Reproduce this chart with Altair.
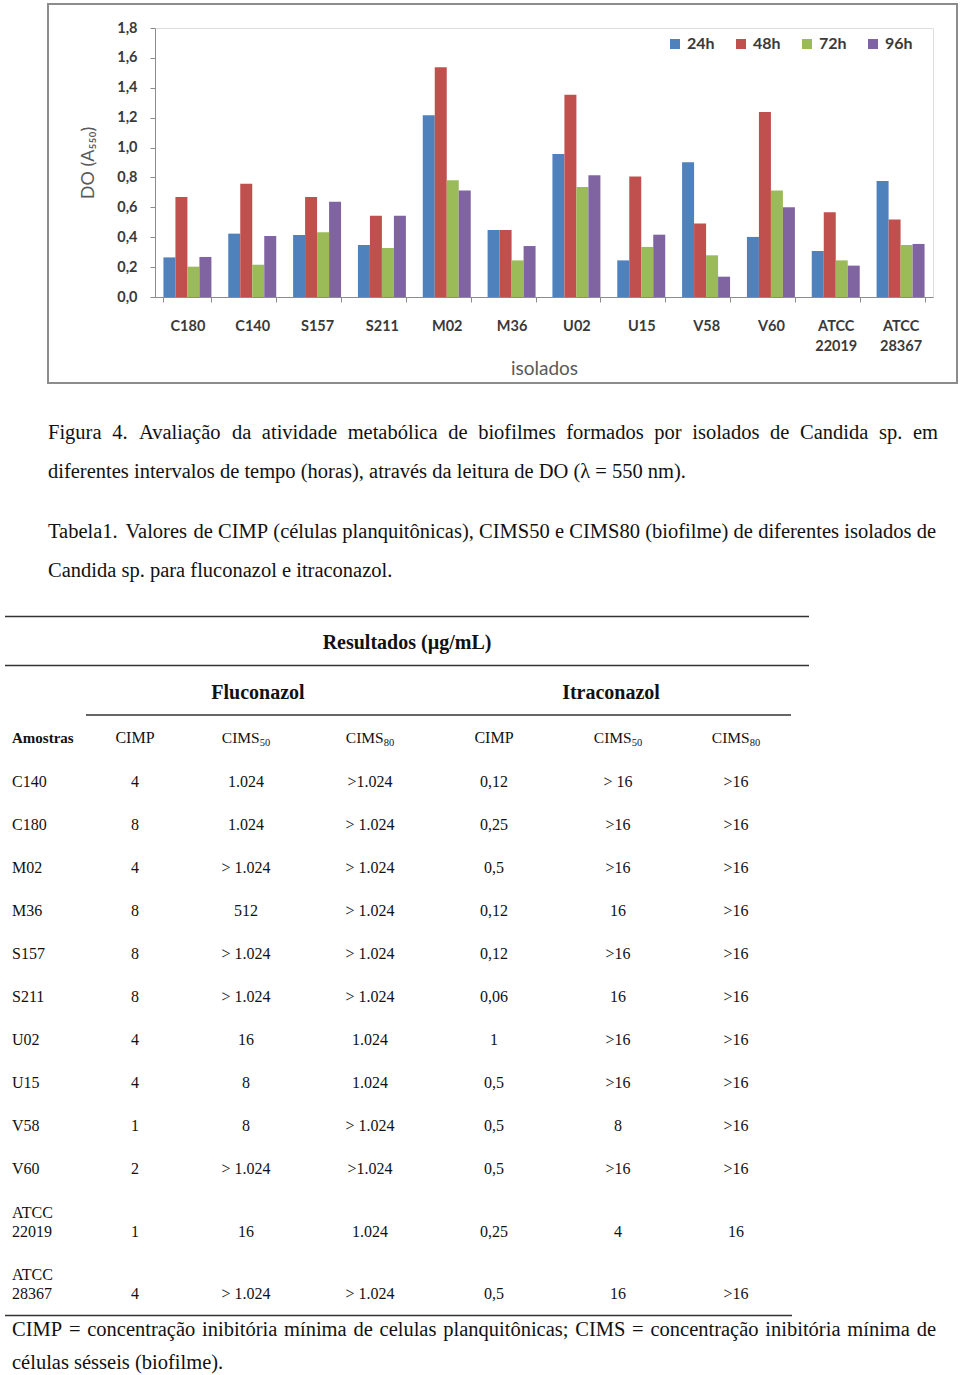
import altair as alt
import pandas as pd

# ------------------------------------------------------------------ data
isolates = ["C180", "C140", "S157", "S211", "M02", "M36", "U02", "U15",
            "V58", "V60", "ATCC 22019", "ATCC 28367"]
times = ["24h", "48h", "72h", "96h"]
do_24h = [0.265, 0.424, 0.415, 0.348, 1.216, 0.448, 0.957, 0.245, 0.901, 0.402, 0.308, 0.776]
do_48h = [0.669, 0.758, 0.669, 0.544, 1.537, 0.448, 1.354, 0.807, 0.491, 1.238, 0.567, 0.518]
do_72h = [0.203, 0.216, 0.433, 0.328, 0.781, 0.245, 0.736, 0.335, 0.279, 0.712, 0.245, 0.348]
do_96h = [0.268, 0.408, 0.638, 0.544, 0.712, 0.341, 0.814, 0.417, 0.136, 0.600, 0.210, 0.355]
y_ticks = [0.0, 0.2, 0.4, 0.6, 0.8, 1.0, 1.2, 1.4, 1.6, 1.8]

caption_lines = [
    "Figura 4. Avaliação da atividade metabólica de biofilmes formados por isolados de Candida sp. em",
    "diferentes intervalos de tempo (horas), através da leitura de DO (λ = 550 nm).",
]
table_caption_lines = [
    "Tabela1. Valores de CIMP (células planquitônicas), CIMS50 e CIMS80 (biofilme) de diferentes isolados de",
    "Candida sp. para fluconazol e itraconazol.",
]
footnote_lines = [
    "CIMP = concentração inibitória mínima de celulas planquitônicas; CIMS = concentração inibitória mínima de",
    "células sésseis (biofilme).",
]
table_title = "Resultados (µg/mL)"
drug_names = ["Fluconazol", "Itraconazol"]
first_header = "Amostras"
col_headers = [("CIMP", ""), ("CIMS", "50"), ("CIMS", "80"), ("CIMP", ""), ("CIMS", "50"), ("CIMS", "80")]

table_samples = ["C140", "C180", "M02", "M36", "S157", "S211", "U02", "U15", "V58", "V60",
                 "ATCC 22019", "ATCC 28367"]
flu_cimp = ["4", "8", "4", "8", "8", "8", "4", "4", "1", "2", "1", "4"]
flu_cims50 = ["1.024", "1.024", "> 1.024", "512", "> 1.024", "> 1.024", "16", "8", "8", "> 1.024", "16", "> 1.024"]
flu_cims80 = [">1.024", "> 1.024", "> 1.024", "> 1.024", "> 1.024", "> 1.024", "1.024", "1.024", "> 1.024",
              ">1.024", "1.024", "> 1.024"]
itr_cimp = ["0,12", "0,25", "0,5", "0,12", "0,12", "0,06", "1", "0,5", "0,5", "0,5", "0,25", "0,5"]
itr_cims50 = ["> 16", ">16", ">16", "16", ">16", "16", ">16", ">16", "8", ">16", "4", "16"]
itr_cims80 = [">16", ">16", ">16", ">16", ">16", ">16", ">16", ">16", ">16", ">16", "16", ">16"]

# ------------------------------------------------------------------ layout / style constants
PX0, PY0, PW, PH = 155, 28, 778, 269          # plot area on the page
CANVAS_W, CANVAS_H = 960, 1375
SERIF = "Liberation Serif"
SANS = "Lato"
INK = "#111111"
COLORS = ["#4F81BD", "#C0504D", "#9BBB59", "#8064A2"]

XP = alt.Scale(domain=[PX0, PX0 + PW], range=[0, PW], nice=False, zero=False)
YP = alt.Scale(domain=[PY0, PY0 + PH], range=[0, PH], nice=False, zero=False)

# Times/Liberation Serif advance widths (1/1000 em), used for justification
TW = {' ': 250, '(': 333, ')': 333, ',': 250, '.': 250, '/': 278, ':': 278, ';': 278, '=': 564, '>': 564,
      '-': 333, 'λ': 549, 'µ': 500,
      'A': 722, 'B': 667, 'C': 667, 'D': 722, 'E': 611, 'F': 556, 'G': 722, 'H': 722, 'I': 333, 'J': 389,
      'K': 722, 'L': 611, 'M': 889, 'N': 722, 'O': 722, 'P': 556, 'Q': 722, 'R': 667, 'S': 556, 'T': 611,
      'U': 722, 'V': 722, 'W': 944, 'X': 722, 'Y': 722, 'Z': 611,
      'a': 444, 'b': 500, 'c': 444, 'd': 500, 'e': 444, 'f': 333, 'g': 500, 'h': 500, 'i': 278, 'j': 278,
      'k': 500, 'l': 278, 'm': 778, 'n': 500, 'o': 500, 'p': 500, 'q': 500, 'r': 333, 's': 389, 't': 278,
      'u': 500, 'v': 500, 'w': 722, 'x': 500, 'y': 500, 'z': 444,
      'ç': 444, 'ã': 444, 'á': 444, 'â': 444, 'é': 444, 'ê': 444, 'í': 278, 'ó': 500, 'ô': 500, 'õ': 500,
      'ú': 500}


def text_width(s, size):
    return sum(TW.get(ch, 500) for ch in s) * size / 1000.0


items = {}


def put(style, text, x, y, size):
    items.setdefault(style, []).append({"text": text, "x": x, "y": y, "size": size})


def place_line(line, x0, y, size, x1=None):
    if x1 is None:
        put(("normal", "left"), line, x0, y, size)
        return
    words = line.split(" ")
    widths = [text_width(w, size) for w in words]
    gap = (x1 - x0 - sum(widths)) / (len(words) - 1)
    x = x0
    for i, (w, wd) in enumerate(zip(words, widths)):
        if i == 0:
            put(("normal", "left"), w, x0, y, size)
        elif i == len(words) - 1:
            put(("normal", "right"), w, x1, y, size)
        else:
            put(("normal", "center"), w, x + wd / 2, y, size)
        x += wd + gap


CAP = 20.5
place_line(caption_lines[0], 48, 439, CAP, 938)
place_line(caption_lines[1], 48, 478, CAP)
place_line(table_caption_lines[0], 48, 538, CAP, 936)
place_line(table_caption_lines[1], 48, 577, CAP)
place_line(footnote_lines[0], 12, 1336, CAP, 936)
place_line(footnote_lines[1], 12, 1369, CAP)

# table headings
put(("bold", "center"), table_title, 407, 649, 20)
put(("bold", "center"), drug_names[0], 258, 699, 20)
put(("bold", "center"), drug_names[1], 611, 699, 20)
put(("bold", "left"), first_header, 12, 743, 15)
col_x = [135, 246, 370, 494, 618, 736]
HDR = 15.5
SUB = 10.5
for cx, (main, sub) in zip(col_x, col_headers):
    if sub:
        total = text_width(main, HDR) + text_width(sub, SUB)
        split_x = cx - total / 2 + text_width(main, HDR)
        put(("normal", "right"), main, split_x, 743, HDR)
        put(("normal", "left"), sub, split_x, 745.5, SUB)
    else:
        put(("normal", "center"), main, cx, 743, 16)

# table body
ROW_STEP, LINE_H, BODY = 43.1, 19, 16
columns = [flu_cimp, flu_cims50, flu_cims80, itr_cimp, itr_cims50, itr_cims80]
yb = 786.5 - ROW_STEP
for r, name in enumerate(table_samples):
    parts = name.split(" ")
    yb += ROW_STEP + (len(parts) - 1) * LINE_H
    for k, p in enumerate(parts):
        put(("normal", "left"), p, 12, yb - (len(parts) - 1 - k) * LINE_H, BODY)
    for cx, col in zip(col_x, columns):
        put(("normal", "center"), col[r], cx, yb, BODY)

rules_df = pd.DataFrame({"x": [5, 5, 86, 5], "x2": [809, 809, 791, 792], "y": [616.5, 665.5, 715, 1315.5]})
frame_df = pd.DataFrame({"x": [48], "x2": [957], "y": [4], "y2": [383]})

# ------------------------------------------------------------------ bar chart
series = {"24h": do_24h, "48h": do_48h, "72h": do_72h, "96h": do_96h}
bars_df = pd.DataFrame([{"isolado": iso, "tempo": t, "do": vals[i]}
                        for t, vals in series.items() for i, iso in enumerate(isolates)])

bars = alt.Chart(bars_df).mark_bar().encode(
    x=alt.X("isolado:N", sort=isolates,
            scale=alt.Scale(paddingInner=0.26, paddingOuter=0.13),
            axis=alt.Axis(title="isolados", labelAngle=0, labelExpr="split(datum.label, ' ')",
                          labelFont=SANS, labelFontWeight="bold", labelFontSize=14.5, labelColor="#3a3a3a",
                          labelLineHeight=20, labelPadding=17, tickBand="extent", tickSize=5,
                          tickColor="#8c8c8c", domainColor="#8c8c8c", grid=False,
                          titleFont=SANS, titleFontWeight="normal", titleFontSize=19, titleColor="#595959",
                          titleY=71, titleBaseline="middle")),
    xOffset=alt.XOffset("tempo:N", sort=times, scale=alt.Scale(paddingInner=0, paddingOuter=0)),
    y=alt.Y("do:Q", scale=alt.Scale(domain=[0, 1.8], nice=False),
            axis=alt.Axis(title="DO (A₅₅₀)", values=y_ticks,
                          labelExpr="replace(format(datum.value, '.1f'), '.', ',')",
                          labelFont=SANS, labelFontWeight="bold", labelFontSize=14.5, labelColor="#3a3a3a",
                          labelPadding=13, tickSize=5, tickColor="#8c8c8c", domainColor="#8c8c8c",
                          gridColor="#a9a9a9", gridWidth=1.2,
                          titleFont=SANS, titleFontWeight="normal", titleFontSize=18, titleColor="#595959",
                          titleX=-67, titleY=PH / 2, titleAlign="center", titleBaseline="middle")),
    color=alt.Color("tempo:N", sort=times, scale=alt.Scale(domain=times, range=COLORS),
                    legend=alt.Legend(title=None, orient="none", legendX=512, legendY=8,
                                      direction="horizontal", symbolType="square", symbolSize=100,
                                      symbolStrokeWidth=0, labelFont=SANS, labelFontSize=16,
                                      labelFontWeight="bold", labelColor="#3a3a3a", labelOffset=4,
                                      columnPadding=18, padding=0)),
)

frame = alt.Chart(frame_df).mark_rect(fillOpacity=0, stroke="#8c8c8c", strokeWidth=2).encode(
    x=alt.X("x:Q", scale=XP, axis=None), x2="x2:Q",
    y=alt.Y("y:Q", scale=YP, axis=None), y2="y2:Q")

rules = alt.Chart(rules_df).mark_rule(color="#333333", strokeWidth=1.6).encode(
    x=alt.X("x:Q", scale=XP, axis=None), x2="x2:Q",
    y=alt.Y("y:Q", scale=YP, axis=None))

text_layers = []
for (weight, align), rows in items.items():
    text_layers.append(
        alt.Chart(pd.DataFrame(rows)).mark_text(
            align=align, baseline="alphabetic", font=SERIF, fontWeight=weight, color=INK).encode(
            x=alt.X("x:Q", scale=XP, axis=None),
            y=alt.Y("y:Q", scale=YP, axis=None),
            text="text:N",
            size=alt.Size("size:Q", scale=None, legend=None)))

chart = alt.layer(frame, bars, rules, *text_layers).resolve_scale(
    x="independent", y="independent", size="independent"
).properties(
    width=PW, height=PH,
    padding={"left": PX0, "top": PY0, "right": CANVAS_W - PX0 - PW, "bottom": CANVAS_H - PY0 - PH},
    autosize=alt.AutoSizeParams(type="none"),
).configure_view(strokeWidth=0).configure(background="white")

chart.save("out.html", embed_options={"renderer": "svg", "actions": False})
